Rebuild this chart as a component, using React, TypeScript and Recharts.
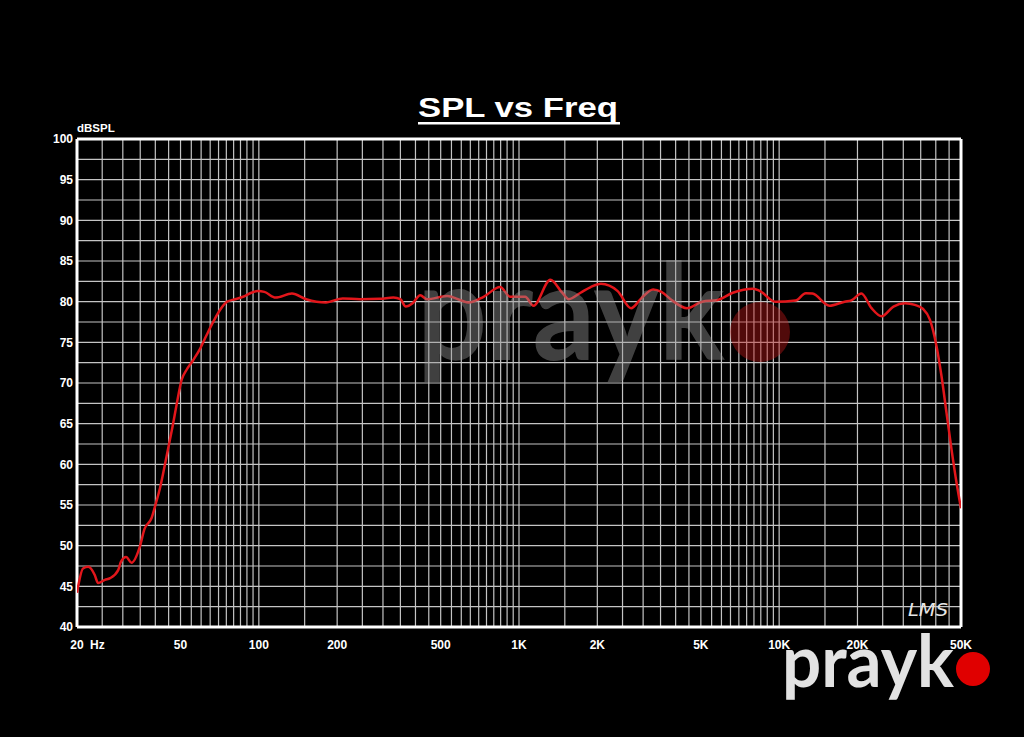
import React from "react";
import { LineChart, Line, XAxis, YAxis, CartesianGrid, ReferenceLine } from "recharts";

const freqHz = [
  20, 21.1, 22.1, 23.4, 24.1, 25.6, 26.8, 28.8, 29.5, 30.9, 32.4, 34.9, 36.3, 38.7, 40.2, 41.7,
  44.2, 46.5, 48.4, 50.5, 52.7, 55.9, 59.2, 63, 67, 71, 75.5, 81, 87, 93.6, 99, 105, 116, 134,
  152, 181, 210, 245, 292, 329, 350, 367, 390, 417, 443, 529, 640, 731, 846, 925, 1056, 1137,
  1320, 1466, 1554, 1725, 1887, 2065, 2395, 2696, 2950, 3275, 3527, 3860, 4420, 5062, 5795,
  6634, 7950, 8445, 9665, 11570, 12660, 13430, 15600, 17850, 18940, 20700, 22650, 24780,
  27500, 30500, 33240, 35770, 37960, 40280, 42100, 44000, 45990, 48080, 50000,
];
const splDb = [
  44.2, 47.2, 47.4, 46.4, 45.4, 45.8, 46.0, 47.0, 48.0, 48.6, 47.9, 49.9, 52.0, 53.4, 55.2, 57.1,
  61.0, 64.5, 67.5, 70.4, 71.6, 72.8, 74.1, 75.9, 77.6, 79.0, 80.0, 80.3, 80.6, 81.1, 81.3, 81.2, 80.5, 81.0,
  80.3, 79.9, 80.4, 80.3, 80.35, 80.5, 80.3, 79.4, 79.8, 80.8, 80.3, 80.7, 79.9, 80.6, 81.8, 80.6, 80.6, 79.5,
  82.7, 81.1, 80.3, 81.1, 81.8, 82.2, 81.3, 79.2, 80.4, 81.5, 81.2, 80.2, 79.2, 80.0, 80.2,
  81.1, 81.6, 81.3, 80.0, 80.15, 81.05, 81.0, 79.5, 80.0, 80.15, 81.0, 79.2, 78.2,
  79.4, 79.8, 79.6, 79.1, 77.8, 74.5, 70.8, 66.3, 61.8, 57.7, 54.6,
];

const xGridTicks = [
  20, 25, 30, 35, 40, 45, 50, 55, 60, 65, 70, 75, 80, 85, 90, 95, 100,
  150, 200, 250, 300, 350, 400, 450, 500, 550, 600, 650, 700, 750, 800, 850, 900, 950, 1000,
  1500, 2000, 2500, 3000, 3500, 4000, 4500, 5000, 5500, 6000, 6500, 7000, 7500, 8000, 8500, 9000, 9500, 10000,
  15000, 20000, 25000, 30000, 35000, 40000, 45000, 50000,
];
const xLabelFreqs = [20, 50, 100, 200, 500, 1000, 2000, 5000, 10000, 20000, 50000];
const xLabelTexts = ["20", "50", "100", "200", "500", "1K", "2K", "5K", "10K", "20K", "50K"];

const yGridTicks = [
  40, 42.5, 45, 47.5, 50, 52.5, 55, 57.5, 60, 62.5, 65, 67.5, 70, 72.5, 75, 77.5, 80, 82.5, 85,
  87.5, 90, 92.5, 95, 97.5, 100,
];

const FONT = "'Liberation Sans', Arial, sans-serif";

const data = freqHz.map((f, i) => ({ f, spl: splDb[i] }));

function XTick({ x, y, payload }: any) {
  const idx = xLabelFreqs.indexOf(payload.value);
  if (idx < 0) return null;
  return (
    <g>
      <text x={x} y={y + 14} textAnchor="middle" fill="#fff" fontSize={12} fontWeight="bold" fontFamily={FONT}>
        {xLabelTexts[idx]}
      </text>
      {idx === 0 && (
        <text x={x + 13} y={y + 14} fill="#fff" fontSize={12} fontWeight="bold" fontFamily={FONT}>
          Hz
        </text>
      )}
    </g>
  );
}

function YTick({ x, y, payload }: any) {
  if (payload.value % 5 !== 0) return null;
  return (
    <text x={73} y={y} dy="0.36em" textAnchor="end" fill="#fff" fontSize={12} fontWeight="bold" fontFamily={FONT}>
      {payload.value}
    </text>
  );
}

export default function App() {
  return (
    <div style={{ position: "fixed", inset: 0, background: "#000" }}>
      <div style={{ position: "relative", width: 1024, height: 737 }}>
        <LineChart width={1024} height={737} data={data} margin={{ top: 139, right: 63, bottom: 0, left: 0 }}>
          <CartesianGrid stroke="#c4c4c4" strokeWidth={1.2} xAxisId={0} yAxisId={0} />
          <XAxis
            dataKey="f"
            type="number"
            scale="log"
            domain={[20, 50000]}
            ticks={xGridTicks}
            interval={0}
            height={110}
            axisLine={false}
            tickLine={false}
            tick={<XTick />}
            allowDataOverflow
          />
          <YAxis
            type="number"
            domain={[40, 100]}
            ticks={yGridTicks}
            interval={0}
            width={77}
            axisLine={false}
            tickLine={false}
            tick={<YTick />}
            allowDataOverflow
          />
          <ReferenceLine x={20} stroke="#fff" strokeWidth={3} />
          <ReferenceLine x={50000} stroke="#fff" strokeWidth={3} />
          <ReferenceLine y={40} stroke="#fff" strokeWidth={3} />
          <ReferenceLine y={100} stroke="#fff" strokeWidth={3} />
          <Line
            type="monotone"
            dataKey="spl"
            stroke="#e2161b"
            strokeWidth={2.5}
            dot={false}
            isAnimationActive={false}
          />
        </LineChart>

        <svg width={1024} height={737} style={{ position: "absolute", left: 0, top: 0, pointerEvents: "none" }}>
          {/* title */}
          <text x={418} y={117} fill="#fff" fontSize={28} fontWeight="bold" fontFamily={FONT} textLength={200} lengthAdjust="spacingAndGlyphs">
            SPL vs Freq
          </text>
          <rect x={418} y={122} width={202} height={2.5} fill="#fff" />
          <text x={77} y={132} fill="#fff" fontSize={11.5} fontWeight="bold" fontFamily={FONT}>
            dBSPL
          </text>

          {/* watermark */}
          <g opacity={0.42}>
            <text x={417} y={360} fill="#9a9a9a" fontSize={134} fontWeight="bold" fontFamily="Lato, sans-serif" textLength={308} lengthAdjust="spacingAndGlyphs">
              prayk
            </text>
            <circle cx={760} cy={332} r={30} fill="#c01818" />
          </g>

          <text x={908} y={616} fill="#e6e6e6" fontSize={18} fontStyle="italic" fontFamily="'DejaVu Sans', sans-serif" fontWeight={300} textLength={40} lengthAdjust="spacingAndGlyphs">
            LMS
          </text>

          {/* logo */}
          <text x={782} y={687} fill="#e2e2e2" fontSize={73} fontWeight="bold" fontFamily="Lato, sans-serif" textLength={172} lengthAdjust="spacingAndGlyphs">
            prayk
          </text>
          <circle cx={973} cy={669} r={17} fill="#e00000" />
        </svg>
      </div>
    </div>
  );
}
